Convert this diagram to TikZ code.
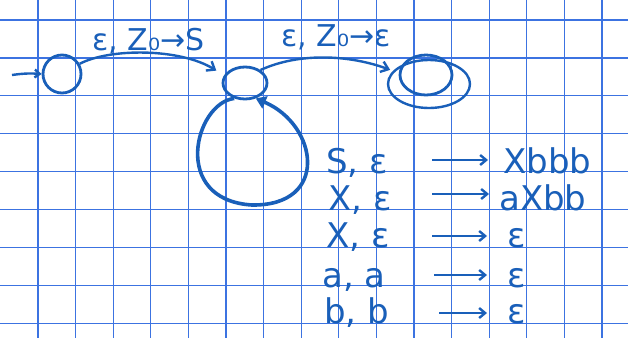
\documentclass[tikz,border=0pt]{standalone}
\usepackage{fontspec}
\setmainfont{DejaVu Sans}
\usetikzlibrary{arrows.meta,shapes.geometric}
\definecolor{ink}{RGB}{25,95,185}
\definecolor{gridc}{RGB}{60,115,225}
\begin{document}
\begin{tikzpicture}[x=1pt,y=-1pt,
  state/.style={draw=ink, line width=2.8pt, ellipse, inner sep=0pt},
  edge/.style={draw=ink, line width=2.4pt, -{Straight Barb[length=7pt,width=11pt]}},
  lbl/.style={text=ink, font=\fontsize{30}{32}\selectfont, inner sep=0pt, anchor=base west},
  rule/.style={text=ink, font=\fontsize{34}{36}\selectfont, inner sep=0pt, anchor=base west},
  rarrow/.style={draw=ink, line width=2.4pt, -{Straight Barb[length=6pt,width=10pt]}},
  gridline/.style={draw=gridc, line width=1.3pt}
]
\fill[white] (0,0) rectangle (628,338);
\useasboundingbox (0,0) rectangle (628,338);
\foreach \i in {1,...,16} \draw[gridline] ({0.4+37.6*\i},0) -- ({0.4+37.6*\i},338);
\foreach \j in {0,...,8} \draw[gridline] (0,{20+37.9*\j}) -- (628,{20+37.9*\j});

% states
\node[state, minimum width=38pt, minimum height=38pt] (q0) at (62,74) {};
\node[state, minimum width=44pt, minimum height=32pt] (q1) at (245,83) {};
\node[state, minimum width=52pt, minimum height=40pt] (q2) at (426,75) {};
\node[state, minimum width=82pt, minimum height=48pt, line width=2.4pt] (q2o) at (429,84) {};

% start arrow
\coordinate (start) at (12,75);
\draw[edge, -{Straight Barb[length=5pt,width=8pt]}] (start) to[bend left=6] (q0.west);

% transitions
\draw[edge, shorten >=9pt] (q0.30) .. controls (110,48) and (180,48) .. (q1.160);
\draw[edge, shorten >=3pt] (q1.40) .. controls (300,52) and (350,55) .. (q2o.160);
\draw[ink, line width=3.6pt, -{Triangle[length=10pt,width=13pt]}]
  (q1.-125) .. controls (195,103) and (170,200) .. (252,205)
            .. controls (330,206) and (318,125) .. (q1.-55);

% edge labels
\node[lbl] (l01) at (92,50) {ε, Z₀→S};
\node[lbl] (l12) at (281,46) {ε, Z₀→ε};

% loop rules
\node[rule] (r1l) at (326,173) {S, ε};
\node[rule] (r1r) at (503,173) {Xbbb};
\coordinate (r1a) at (432,160); \coordinate (r1b) at (488,160);
\draw[rarrow] (r1a) -- (r1b);

\node[rule] (r2l) at (328,210) {X, ε};
\node[rule] (r2r) at (499,210) {aXbb};
\coordinate (r2a) at (432,194); \coordinate (r2b) at (489,194);
\draw[rarrow] (r2a) -- (r2b);

\node[rule] (r3l) at (326,247) {X, ε};
\node[rule] (r3r) at (507,247) {ε};
\coordinate (r3a) at (432,236); \coordinate (r3b) at (487,236);
\draw[rarrow] (r3a) -- (r3b);

\node[rule] (r4l) at (322,287) {a, a};
\node[rule] (r4r) at (507,287) {ε};
\coordinate (r4a) at (434,275); \coordinate (r4b) at (487,275);
\draw[rarrow] (r4a) -- (r4b);

\node[rule] (r5l) at (324,323) {b, b};
\node[rule] (r5r) at (507,323) {ε};
\coordinate (r5a) at (439,313); \coordinate (r5b) at (487,313);
\draw[rarrow] (r5a) -- (r5b);
\end{tikzpicture}
\end{document}
